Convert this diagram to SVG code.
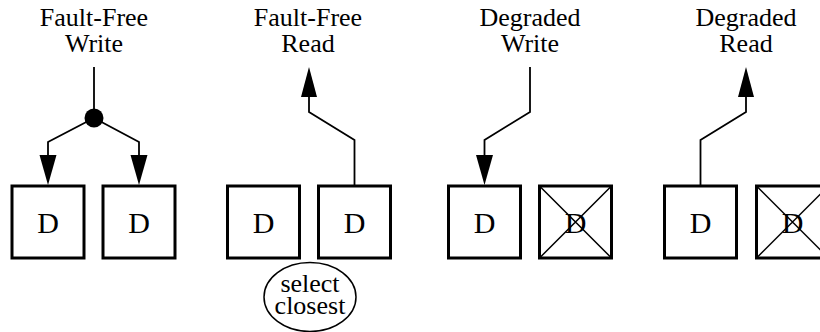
<svg xmlns="http://www.w3.org/2000/svg" width="820" height="332" viewBox="0 0 820 332">
  <style>
    .title { font-family: "Liberation Serif", "Times New Roman", serif; font-size: 26px; fill: #000; text-anchor: middle; }
    .disk { fill: #fff; stroke: #000; stroke-width: 3; }
    .label { font-family: "Liberation Serif", "Times New Roman", serif; font-size: 30px; fill: #000; text-anchor: middle; }
    .cross { stroke: #000; stroke-width: 1.5; fill: none; }
    .wire { stroke: #000; stroke-width: 1.8; fill: none; }
    .head { fill: #000; stroke: none; }
    .note { font-family: "Liberation Serif", "Times New Roman", serif; font-size: 26px; fill: #000; text-anchor: middle; }
  </style>
  <rect width="820" height="332" fill="#fff"/>

  <!-- operation titles -->
  <g id="title-ff-write"><text class="title" x="94" y="26">Fault-Free</text><text class="title" x="94" y="52">Write</text></g>
  <g id="title-ff-read"><text class="title" x="308" y="26">Fault-Free</text><text class="title" x="308" y="52">Read</text></g>
  <g id="title-dg-write"><text class="title" x="530" y="26">Degraded</text><text class="title" x="530" y="52">Write</text></g>
  <g id="title-dg-read"><text class="title" x="746" y="26">Degraded</text><text class="title" x="746" y="52">Read</text></g>

  <!-- disks -->
  <g id="disk1"><rect class="disk" x="12" y="186" width="72" height="72"/><text class="label" x="48" y="233">D</text></g>
  <g id="disk2"><rect class="disk" x="103" y="186" width="72" height="72"/><text class="label" x="139" y="233">D</text></g>
  <g id="disk3"><rect class="disk" x="227.5" y="186" width="72" height="72"/><text class="label" x="263.5" y="233">D</text></g>
  <g id="disk4"><rect class="disk" x="318.5" y="186" width="72" height="72"/><text class="label" x="354.5" y="233">D</text></g>
  <g id="disk5"><rect class="disk" x="448.5" y="186" width="72" height="72"/><text class="label" x="484.5" y="233">D</text></g>
  <g id="disk6-failed"><rect class="disk" x="539.5" y="186" width="72" height="72"/><text class="label" x="575.5" y="233">D</text>
    <path class="cross" d="M539.5,186 L611.5,258 M611.5,186 L539.5,258"/></g>
  <g id="disk7"><rect class="disk" x="664.5" y="186" width="72" height="72"/><text class="label" x="700.5" y="233">D</text></g>
  <g id="disk8-failed"><rect class="disk" x="756.5" y="186" width="72" height="72"/><text class="label" x="792.5" y="233">D</text>
    <path class="cross" d="M756.5,186 L828.5,258 M828.5,186 L756.5,258"/></g>

  <!-- read policy note -->
  <g id="select-closest">
    <ellipse cx="310" cy="297" rx="46" ry="34.5" fill="#fff" stroke="#000" stroke-width="1.5"/>
    <text class="note" x="310" y="292">select</text>
    <text class="note" x="310" y="313.5">closest</text>
  </g>

  <!-- connectors -->
  <g id="connectors">
    <path class="wire" d="M94,67 V118 M94,118 L48,142 V156 M94,118 L139,142 V156"/>
    <circle cx="94" cy="118" r="9.5" fill="#000"/>
    <polygon class="head" points="48,185 39.5,155 56.5,155"/>
    <polygon class="head" points="139,185 130.5,155 147.5,155"/>

    <path class="wire" d="M354.5,186 V140 L309,112 V96"/>
    <polygon class="head" points="309,67 301,97 317,97"/>

    <path class="wire" d="M530,67 V112 L484.5,140 V156"/>
    <polygon class="head" points="484.5,185 476,155 493,155"/>

    <path class="wire" d="M700.5,186 V140 L746,112 V96"/>
    <polygon class="head" points="746,67 738,97 754,97"/>
  </g>
</svg>
